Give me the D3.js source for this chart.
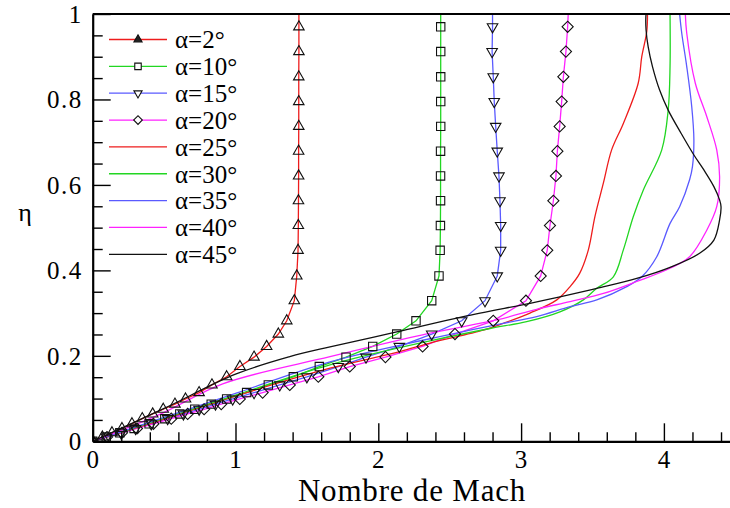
<!DOCTYPE html>
<html><head><meta charset="utf-8">
<script src="https://cdn.jsdelivr.net/npm/d3@7"></script>
<style>
html,body{margin:0;padding:0;background:#fff;}
svg{display:block;}
svg text{font-family:"Liberation Serif","Times New Roman",serif !important;fill:#000;}
</style></head>
<body>
<svg id="chart" width="730" height="508"></svg>
<script>
// ---------- data ----------
const seriesNames = ["α=2°","α=10°","α=15°","α=20°","α=25°","α=30°","α=35°","α=40°","α=45°"];
const seriesColors = ["#ee1c1c","#22d622","#5a5aff","#ff22ff","#ee1c1c","#22d622","#5a5aff","#ff22ff","#111111"];
const seriesMarkers = ["triangle","square","triangleDown","diamond",null,null,null,null,null];

// common eta grid for the marked series
const etaGrid = [0,0.010,0.020,0.030,0.041,0.053,0.064,0.075,0.087,0.099,0.114,0.132,0.151,0.175,0.197,0.222,0.251,0.282,0.329,0.387,0.447,0.505,0.563,0.621,0.679,0.737,0.795,0.853,0.912,0.970,1.0];
const mach2  = [0,0.068,0.135,0.205,0.275,0.347,0.420,0.494,0.576,0.650,0.745,0.835,0.938,1.031,1.130,1.218,1.300,1.359,1.412,1.429,1.438,1.440,1.441,1.442,1.442,1.443,1.443,1.443,1.444,1.444,1.444];
const mach10 = [0,0.095,0.190,0.290,0.395,0.505,0.610,0.715,0.830,0.938,1.078,1.230,1.405,1.587,1.774,1.961,2.129,2.264,2.374,2.425,2.433,2.435,2.436,2.436,2.436,2.437,2.437,2.437,2.437,2.437,2.437];
const mach15 = [0,0.098,0.198,0.300,0.410,0.525,0.635,0.745,0.860,0.980,1.130,1.310,1.500,1.720,1.914,2.147,2.374,2.584,2.747,2.833,2.857,2.857,2.852,2.845,2.833,2.822,2.812,2.805,2.797,2.800,2.800];
const mach20 = [0,0.100,0.205,0.310,0.425,0.550,0.665,0.780,0.900,1.030,1.190,1.380,1.580,1.800,2.050,2.310,2.537,2.805,3.034,3.137,3.183,3.202,3.226,3.244,3.254,3.270,3.284,3.296,3.314,3.326,3.330];

// unmarked series: Mach and eta pairs
const mach25 = [0,0.5,1.0,1.662,2.15,2.362,2.735,2.875,3.062,3.25,3.343,3.41,3.471,3.517,3.576,3.634,3.716,3.82,3.845,3.88,3.885];
const eta25  = [0,0.052,0.106,0.171,0.21,0.23,0.26,0.276,0.30,0.331,0.362,0.393,0.448,0.526,0.604,0.682,0.744,0.838,0.90,0.959,1.0];
const mach30 = [0,0.5,1.0,1.662,2.362,2.782,3.039,3.272,3.436,3.53,3.646,3.716,3.786,3.856,3.985,4.03,4.043,4.043];
const eta30  = [0,0.054,0.108,0.179,0.235,0.264,0.28,0.303,0.331,0.358,0.385,0.448,0.526,0.588,0.682,0.775,0.877,1.0];
const mach35 = [0,0.5,1.0,1.662,2.362,2.642,2.875,3.109,3.343,3.53,3.74,3.845,3.95,4.043,4.11,4.18,4.20,4.21,4.195,4.16,4.125,4.11];
const eta35  = [0,0.056,0.112,0.186,0.24,0.26,0.276,0.292,0.315,0.331,0.362,0.385,0.432,0.51,0.549,0.612,0.643,0.705,0.783,0.877,0.955,1.0];
const mach40 = [0,0.47,0.915,1.662,2.362,2.829,3.109,3.343,3.576,3.81,4.043,4.18,4.30,4.37,4.39,4.37,4.30,4.22,4.16,4.15];
const eta40  = [0,0.063,0.135,0.198,0.253,0.284,0.309,0.327,0.346,0.374,0.405,0.432,0.494,0.549,0.619,0.682,0.76,0.838,0.955,1.0];
const mach45 = [0,0.5,1.0,1.38,1.662,2.129,2.595,3.062,3.272,3.53,3.81,4.043,4.25,4.35,4.39,4.40,4.39,4.35,4.28,4.21,4.12,4.03,3.97,3.92,3.89,3.875,3.875];
const eta45  = [0,0.077,0.157,0.198,0.221,0.256,0.292,0.323,0.338,0.358,0.381,0.407,0.44,0.471,0.518,0.549,0.565,0.596,0.635,0.670,0.721,0.775,0.822,0.877,0.923,0.963,1.0];

const xMajor = [0,1,2,3,4];
const xMinor = [0.2,0.4,0.6,0.8,1.2,1.4,1.6,1.8,2.2,2.4,2.6,2.8,3.2,3.4,3.6,3.8,4.2,4.4];
const yMajor = [0,0.2,0.4,0.6,0.8,1];
const yMajorLabels = ["0","0.2","0.4","0.6","0.8","1"];
const yMinor = [0.05,0.1,0.15,0.25,0.3,0.35,0.45,0.5,0.55,0.65,0.7,0.75,0.85,0.9,0.95];
const xTitle = "Nombre de Mach";
const yTitle = "η";

// ---------- build ----------
const FONT = '"Liberation Serif","Times New Roman",serif';
const zip = (ms, es) => ms.map((m, i) => [m, es[i]]);
const seriesData = [
  zip(mach2, etaGrid), zip(mach10, etaGrid), zip(mach15, etaGrid), zip(mach20, etaGrid),
  zip(mach25, eta25), zip(mach30, eta30), zip(mach35, eta35), zip(mach40, eta40), zip(mach45, eta45)
];

const svg = d3.select("#chart");
const pLeft = 92.7, pRight = 735.3, pTop = 14, pBottom = 441.3;
const x = d3.scaleLinear().domain([0, 4.5]).range([pLeft, pRight]);
const y = d3.scaleLinear().domain([0, 1]).range([pBottom, pTop]);

svg.append("defs").append("clipPath").attr("id","clip")
  .append("rect").attr("x", pLeft).attr("y", pTop).attr("width", pRight-pLeft).attr("height", pBottom-pTop);

// lines
const plot = svg.append("g").attr("clip-path","url(#clip)");
const lineLin = d3.line().x(d => x(d[0])).y(d => y(d[1]));
const lineSmooth = d3.line().x(d => x(d[0])).y(d => y(d[1])).curve(d3.curveCatmullRom.alpha(0.5));

function symbolPath(type, size) {
  if (type === "triangle" || type === "triangleDown") return d3.symbol(d3.symbolTriangle, size)();
  return d3.symbol(d3.symbolSquare, size)();
}
function symbolRot(type) {
  if (type === "triangleDown") return 180;
  if (type === "diamond") return 45;
  return 0;
}
const symSize = {triangle: 48, triangleDown: 48, square: 70, diamond: 62};

seriesData.forEach((data, i) => {
  const mk = seriesMarkers[i];
  plot.append("path").datum(data)
    .attr("fill","none").attr("stroke", seriesColors[i]).attr("stroke-width", 1.3)
    .attr("d", mk ? lineLin : lineSmooth);
});
seriesData.forEach((data, i) => {
  const mk = seriesMarkers[i];
  if (!mk) return;
  plot.append("g").selectAll("path").data(data.filter(d => d[1] < 0.99)).join("path")
    .attr("d", symbolPath(mk, symSize[mk]))
    .attr("transform", d => `translate(${x(d[0])},${y(d[1])}) rotate(${symbolRot(mk)})`)
    .attr("fill","none").attr("stroke","#111").attr("stroke-width",1.1);
});

// axes
const gx = svg.append("g").attr("transform",`translate(0,${pBottom})`);
gx.call(d3.axisBottom(x).tickValues(xMajor).tickFormat(d3.format("d")).tickSize(-18).tickSizeOuter(0).tickPadding(9));
const gxm = svg.append("g").attr("transform",`translate(0,${pBottom})`);
gxm.call(d3.axisBottom(x).tickValues(xMinor).tickFormat("").tickSize(-9).tickSizeOuter(0));
gxm.select(".domain").remove();

const gy = svg.append("g").attr("transform",`translate(${pLeft},0)`);
gy.call(d3.axisLeft(y).tickValues(yMajor).tickFormat((d,i) => yMajorLabels[i]).tickSize(-18).tickSizeOuter(0).tickPadding(10));
const gym = svg.append("g").attr("transform",`translate(${pLeft},0)`);
gym.call(d3.axisLeft(y).tickValues(yMinor).tickFormat("").tickSize(-10).tickSizeOuter(0));
gym.select(".domain").remove();

[gx, gy, gxm, gym].forEach(g => {
  g.attr("font-family", FONT);
  g.selectAll(".tick line").attr("stroke","#000").attr("stroke-width",1.4);
  g.select(".domain").attr("stroke","#000").attr("stroke-width",2.2);
  g.selectAll("text").style("font-family", FONT).style("font-size","25px").attr("fill","#000");
});
gx.selectAll(".tick text").attr("dy","0.72em").style("letter-spacing","1px");
gy.selectAll(".tick text").attr("dy","0.34em").attr("x", -10).style("letter-spacing","1.5px");

// top frame
svg.append("line").attr("x1", pLeft).attr("x2", pRight).attr("y1", pTop).attr("y2", pTop)
  .attr("stroke","#000").attr("stroke-width",2.2);

// titles
svg.append("text").attr("x", 412).attr("y", 501).attr("text-anchor","middle")
  .style("font-family", FONT).style("font-size","31px").style("letter-spacing","0.8px").text(xTitle);
svg.append("text").attr("x", 25).attr("y", 213).attr("text-anchor","middle").attr("dy","0.3em")
  .style("font-family", FONT).style("font-size","26px").text(yTitle);

// legend
const leg = svg.append("g");
const legY0 = 39.5, legStep = 26.85;
seriesNames.forEach((name, i) => {
  const yy = legY0 + i * legStep;
  leg.append("line").attr("x1",109).attr("x2",167).attr("y1",yy).attr("y2",yy)
    .attr("stroke", seriesColors[i]).attr("stroke-width",1.3);
  const mk = seriesMarkers[i];
  if (mk) {
    leg.append("path").attr("d", symbolPath(mk, symSize[mk]*0.6))
      .attr("transform",`translate(138,${yy}) rotate(${symbolRot(mk)})`)
      .attr("fill", mk === "triangle" ? "#222" : "#fff").attr("stroke","#111").attr("stroke-width",1.1);
  }
  leg.append("text").attr("x",175).attr("y",yy).attr("dy","0.35em")
    .style("font-family", FONT).style("font-size","25px").text(name);
});
</script>
</body></html>
